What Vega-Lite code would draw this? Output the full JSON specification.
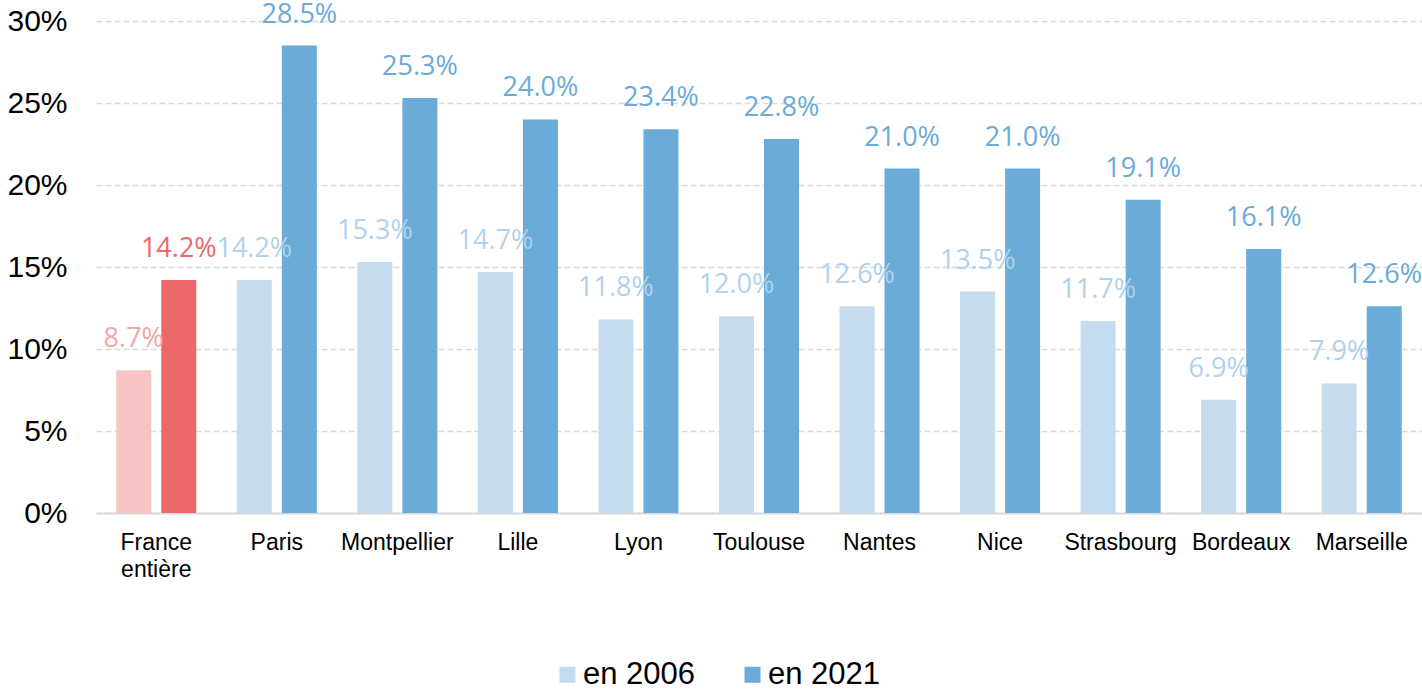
{
  "$schema": "https://vega.github.io/schema/vega-lite/v6.json",
  "width": 1326,
  "height": 492,
  "autosize": {"type": "none"},
  "padding": {"left": 96, "top": 21, "right": 0, "bottom": 178},
  "background": "white",
  "config": {
    "view": {"stroke": null},
    "font": "Liberation Sans"
  },
  "data": {
    "values": [
      {"ville": "France entière", "annee": "2006", "serie": "France 2006", "taux": 0.087},
      {"ville": "France entière", "annee": "2021", "serie": "France 2021", "taux": 0.142},
      {"ville": "Paris", "annee": "2006", "serie": "en 2006", "taux": 0.142},
      {"ville": "Paris", "annee": "2021", "serie": "en 2021", "taux": 0.285},
      {"ville": "Montpellier", "annee": "2006", "serie": "en 2006", "taux": 0.153},
      {"ville": "Montpellier", "annee": "2021", "serie": "en 2021", "taux": 0.253},
      {"ville": "Lille", "annee": "2006", "serie": "en 2006", "taux": 0.147},
      {"ville": "Lille", "annee": "2021", "serie": "en 2021", "taux": 0.240},
      {"ville": "Lyon", "annee": "2006", "serie": "en 2006", "taux": 0.118},
      {"ville": "Lyon", "annee": "2021", "serie": "en 2021", "taux": 0.234},
      {"ville": "Toulouse", "annee": "2006", "serie": "en 2006", "taux": 0.120},
      {"ville": "Toulouse", "annee": "2021", "serie": "en 2021", "taux": 0.228},
      {"ville": "Nantes", "annee": "2006", "serie": "en 2006", "taux": 0.126},
      {"ville": "Nantes", "annee": "2021", "serie": "en 2021", "taux": 0.210},
      {"ville": "Nice", "annee": "2006", "serie": "en 2006", "taux": 0.135},
      {"ville": "Nice", "annee": "2021", "serie": "en 2021", "taux": 0.210},
      {"ville": "Strasbourg", "annee": "2006", "serie": "en 2006", "taux": 0.117},
      {"ville": "Strasbourg", "annee": "2021", "serie": "en 2021", "taux": 0.191},
      {"ville": "Bordeaux", "annee": "2006", "serie": "en 2006", "taux": 0.069},
      {"ville": "Bordeaux", "annee": "2021", "serie": "en 2021", "taux": 0.161},
      {"ville": "Marseille", "annee": "2006", "serie": "en 2006", "taux": 0.079},
      {"ville": "Marseille", "annee": "2021", "serie": "en 2021", "taux": 0.126}
    ]
  },
  "encoding": {
    "x": {
      "field": "ville",
      "type": "nominal",
      "sort": null,
      "scale": {"paddingInner": 0.336, "paddingOuter": 0.168},
      "axis": {
        "title": null,
        "labelAngle": 0,
        "labelFont": "Liberation Sans",
        "labelFontSize": 23,
        "labelColor": "#000000",
        "labelPadding": 18,
        "labelLineHeight": 27,
        "labelExpr": "datum.value == 'France entière' ? ['France', 'entière'] : datum.value",
        "ticks": false,
        "domainColor": "#d9d9d9",
        "domainWidth": 2,
        "grid": false
      }
    },
    "xOffset": {
      "field": "annee",
      "type": "nominal",
      "scale": {"paddingInner": 0.222, "paddingOuter": 0}
    },
    "y": {
      "field": "taux",
      "type": "quantitative",
      "scale": {"domain": [0, 0.3], "nice": false},
      "axis": {
        "title": null,
        "format": ".0%",
        "values": [0, 0.05, 0.1, 0.15, 0.2, 0.25, 0.3],
        "labelFont": "Liberation Sans",
        "labelFontSize": 30,
        "labelColor": "#000000",
        "labelPadding": 29,
        "ticks": false,
        "domain": false,
        "grid": true,
        "gridColor": "#d9d9d9",
        "gridDash": [6, 3],
        "gridWidth": 1.5
      }
    }
  },
  "layer": [
    {
      "mark": {"type": "bar"},
      "encoding": {
        "color": {
          "field": "serie",
          "type": "nominal",
          "scale": {
            "domain": ["en 2006", "en 2021", "France 2006", "France 2021"],
            "range": ["#c5dcee", "#6aabd7", "#f7c4c4", "#ec686b"]
          },
          "legend": {
            "title": null,
            "values": ["en 2006", "en 2021"],
            "orient": "none",
            "direction": "horizontal",
            "legendX": 456,
            "legendY": 638,
            "symbolType": "square",
            "symbolSize": 256,
            "symbolStrokeWidth": 0,
            "labelFont": "Liberation Sans",
            "labelFontSize": 31,
            "labelColor": "#000000",
            "labelOffset": 0,
            "columnPadding": 41,
            "labelLimit": 300
          }
        }
      }
    },
    {
      "mark": {"type": "text", "baseline": "middle", "align": "center", "dy": -31, "font": "Open Sans", "fontSize": 27},
      "encoding": {
        "text": {"field": "taux", "type": "quantitative", "format": ".1%"},
        "color": {
          "field": "serie",
          "type": "nominal",
          "scale": {
            "domain": ["en 2006", "en 2021", "France 2006", "France 2021"],
            "range": ["#b0d2ec", "#6aabd7", "#f4a5a7", "#ec686b"]
          },
          "legend": null
        }
      }
    }
  ],
  "resolve": {"scale": {"color": "independent"}}
}
